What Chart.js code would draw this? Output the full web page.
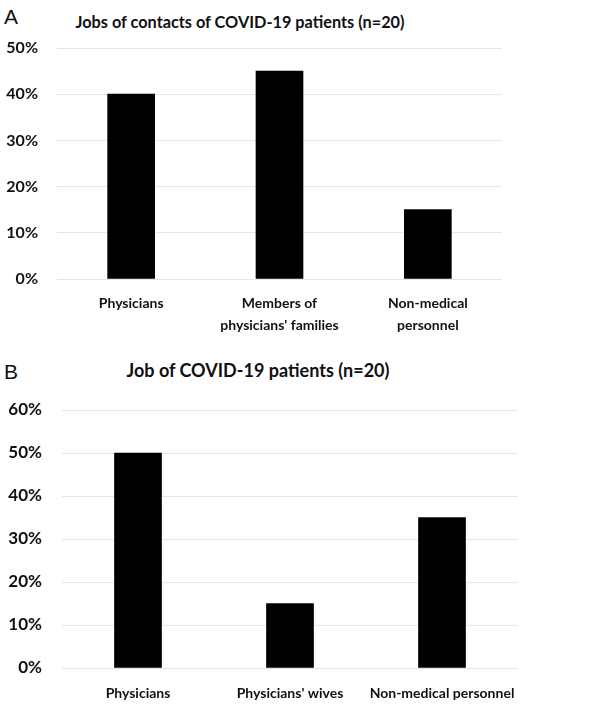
<!DOCTYPE html>
<html>
<head>
<meta charset="utf-8">
<script src="https://cdn.jsdelivr.net/npm/chart.js@4"></script>
<style>
  html, body { margin: 0; padding: 0; background: #fff; }
  body { width: 600px; height: 706px; position: relative; overflow: hidden; font-family: Lato, "Liberation Sans", sans-serif; color: #111; }
  .panel-letter { position: absolute; left: 4px; font-family: "Liberation Sans", Arial, sans-serif; font-size: 21px; font-weight: normal; line-height: 1; }
  .panel-title { position: absolute; text-align: center; font-weight: bold; line-height: 1; white-space: nowrap; }
  canvas { position: absolute; left: 0; }
</style>
</head>
<body>
<div class="panel-letter" style="top:6px;">A</div>
<div class="panel-title" style="left:40px; width:400px; top:14px; font-size:16.3px;">Jobs of contacts of COVID-19 patients (n=20)</div>
<canvas id="chartA" width="600" height="340" style="top:0px;"></canvas>

<div class="panel-letter" style="top:361px;">B</div>
<div class="panel-title" style="left:58px; width:400px; top:361px; font-size:18px;">Job of COVID-19 patients (n=20)</div>
<canvas id="chartB" width="600" height="366" style="top:340px;"></canvas>

<script>
// Panel A data
const categoriesA = ["Physicians", ["Members of", "physicians' families"], ["Non-medical", "personnel"]];
const valuesA = [40, 45, 15];
const ticksA = [0, 10, 20, 30, 40, 50];

// Panel B data
const categoriesB = ["Physicians", "Physicians' wives", "Non-medical personnel"];
const valuesB = [50, 15, 35];
const ticksB = [0, 10, 20, 30, 40, 50, 60];

function makeChart(id, labels, values, ticks, opt) {
  return new Chart(document.getElementById(id), {
    type: 'bar',
    data: {
      labels: labels,
      datasets: [{
        data: values,
        backgroundColor: '#000000',
        borderWidth: 0,
        barThickness: opt.barThickness
      }]
    },
    options: {
      responsive: false,
      animation: false,
      devicePixelRatio: 1,
      layout: { padding: { top: opt.top, right: opt.right, left: 0, bottom: 0 } },
      plugins: { legend: { display: false }, title: { display: false }, tooltip: { enabled: false } },
      scales: {
        x: {
          grid: { display: false },
          border: { display: false },
          ticks: {
            color: '#111',
            padding: opt.xPad,
            maxRotation: 0,
            autoSkip: false,
            font: { family: 'Lato, "Liberation Sans", sans-serif', size: opt.xFont, weight: 'bold', lineHeight: 1.55 }
          },
          afterFit: (s) => { s.height = opt.xHeight; }
        },
        y: {
          min: 0,
          max: ticks[ticks.length - 1],
          afterBuildTicks: (s) => { s.ticks = ticks.map(v => ({ value: v })); },
          grid: { color: '#e6e6e6', lineWidth: 1, drawTicks: false },
          border: { display: false },
          ticks: {
            color: '#111',
            padding: opt.yPad,
            font: { family: 'Lato, "Liberation Sans", sans-serif', size: opt.yFont, weight: 'bold' },
            callback: (v) => v + '%'
          },
          afterFit: (s) => { s.width = opt.yWidth; }
        }
      }
    }
  });
}

makeChart('chartA', categoriesA, valuesA, ticksA, {
  top: 48, right: 98, xHeight: 61, xPad: 6, xFont: 14, yFont: 16, yPad: 19, yWidth: 57, barThickness: 47
});
makeChart('chartB', categoriesB, valuesB, ticksB, {
  top: 70, right: 82, xHeight: 38, xPad: 7, xFont: 14, yFont: 17, yPad: 20, yWidth: 62, barThickness: 47
});
</script>
</body>
</html>
